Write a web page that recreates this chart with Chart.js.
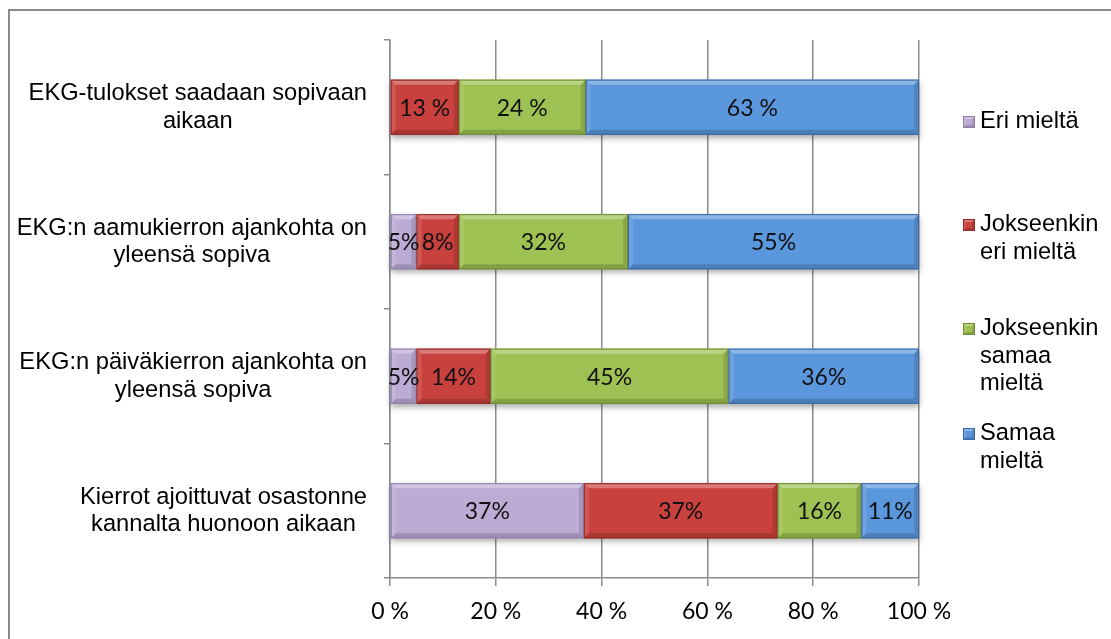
<!DOCTYPE html>
<html lang="fi">
<head>
<meta charset="utf-8">
<title>EKG-kierrot</title>
<script src="https://cdn.jsdelivr.net/npm/chart.js@4.4.1/dist/chart.umd.min.js"></script>
<style>
  html, body { margin: 0; padding: 0; background: #ffffff; }
  #wrap { position: relative; width: 1111px; height: 639px; }
</style>
</head>
<body>
<div id="wrap"><canvas id="c" width="1111" height="639"></canvas></div>
<script>
// Statements (each wrapped onto lines as printed)
const categories = [
  ['EKG-tulokset saadaan sopivaan', 'aikaan'],
  ['EKG:n aamukierron ajankohta on', 'yleensä sopiva'],
  ['EKG:n päiväkierron ajankohta on', 'yleensä sopiva'],
  ['Kierrot ajoittuvat osastonne', 'kannalta huonoon aikaan']
];

// Answer options
const seriesNames = ['Eri mieltä', 'Jokseenkin eri mieltä', 'Jokseenkin samaa mieltä', 'Samaa mieltä'];
const legendLines = [['Eri mieltä'], ['Jokseenkin', 'eri mieltä'], ['Jokseenkin', 'samaa', 'mieltä'], ['Samaa', 'mieltä']];

// Share of answers per statement (%)
const eriMielta       = [0, 5, 5, 37];
const jokseenkinEri   = [13, 8, 14, 37];
const jokseenkinSamaa = [24, 32, 45, 16];
const samaaMielta     = [63, 55, 36, 11];

// Value label suffix per statement
const labelSuffix = [' %', '%', '%', '%'];

// Horizontal axis labels
const tickLabels = ['0 %', '20 %', '40 %', '60 %', '80 %', '100 %'];

const rawSeries = [eriMielta, jokseenkinEri, jokseenkinSamaa, samaaMielta];
// 100 % stacked: each row is scaled to its own total
const rowTotals = categories.map((_, i) => rawSeries.reduce((s, arr) => s + arr[i], 0));

const palette = [
  { fill: '#BCABD5', edge: '#8E7CAD' },
  { fill: '#C9413E', edge: '#8C2A28' },
  { fill: '#9DC152', edge: '#6C8A32' },
  { fill: '#5A97DC', edge: '#3869A6' }
];

const LABEL_FONT = '23.7px "Liberation Sans", Arial, sans-serif';
const VALUE_FONT = '23px Lato, "Open Sans", sans-serif';
const GRID = '#8C8C8C';

function barBox(el) {
  const p = el.getProps(['x', 'y', 'base', 'height'], true);
  const l = Math.min(p.x, p.base), r = Math.max(p.x, p.base);
  return { l, r, t: p.y - p.height / 2, b: p.y + p.height / 2, cy: p.y };
}

function poly(ctx, pts, color) {
  ctx.beginPath();
  ctx.moveTo(pts[0][0], pts[0][1]);
  for (let i = 1; i < pts.length; i++) ctx.lineTo(pts[i][0], pts[i][1]);
  ctx.closePath();
  ctx.fillStyle = color;
  ctx.fill();
}

function bevel(ctx, l, t, r, b, d, edge) {
  d = Math.min(d, (r - l) / 2, (b - t) / 2);
  poly(ctx, [[l, t], [r, t], [r - d, t + d], [l + d, t + d]], 'rgba(255,255,255,0.30)');
  poly(ctx, [[l, b], [r, b], [r - d, b - d], [l + d, b - d]], 'rgba(0,0,0,0.16)');
  poly(ctx, [[l, t], [l + d, t + d], [l + d, b - d], [l, b]], 'rgba(255,255,255,0.12)');
  poly(ctx, [[r, t], [r - d, t + d], [r - d, b - d], [r, b]], 'rgba(0,0,0,0.12)');
  ctx.strokeStyle = edge;
  ctx.lineWidth = 1;
  ctx.strokeRect(l + 0.5, t + 0.5, r - l - 1, b - t - 1);
}

const decor = {
  id: 'decor',
  beforeDraw(chart) {
    const ctx = chart.ctx;
    ctx.save();
    ctx.fillStyle = '#ffffff';
    ctx.fillRect(0, 0, chart.width, chart.height);
    // chart frame
    ctx.strokeStyle = '#8A8A8A';
    ctx.lineWidth = 2;
    ctx.strokeRect(9, 10, 1200, 700);
    ctx.restore();
  },
  beforeDatasetsDraw(chart) {
    // soft drop shadow under every bar segment
    const ctx = chart.ctx;
    ctx.save();
    ctx.shadowColor = 'rgba(0,0,0,0.35)';
    ctx.shadowBlur = 6;
    ctx.shadowOffsetY = 3;
    chart.data.datasets.forEach((ds, k) => {
      chart.getDatasetMeta(k).data.forEach((el, i) => {
        if (!rawSeries[k][i]) return;
        const bx = barBox(el);
        ctx.fillStyle = palette[k].fill;
        ctx.fillRect(bx.l, bx.t, bx.r - bx.l, bx.b - bx.t);
      });
    });
    ctx.restore();
  },
  afterDatasetsDraw(chart) {
    const ctx = chart.ctx;
    ctx.save();
    chart.data.datasets.forEach((ds, k) => {
      chart.getDatasetMeta(k).data.forEach((el, i) => {
        if (!rawSeries[k][i]) return;
        const bx = barBox(el);
        bevel(ctx, bx.l, bx.t, bx.r, bx.b, 5, palette[k].edge);
      });
    });
    // value labels
    ctx.font = VALUE_FONT;
    ctx.fillStyle = '#111111';
    ctx.textAlign = 'center';
    ctx.textBaseline = 'middle';
    chart.data.datasets.forEach((ds, k) => {
      chart.getDatasetMeta(k).data.forEach((el, i) => {
        const v = rawSeries[k][i];
        if (!v) return;
        const bx = barBox(el);
        ctx.fillText(v + labelSuffix[i], (bx.l + bx.r) / 2, bx.cy + 1);
      });
    });
    ctx.restore();
  },
  afterDraw(chart) {
    const ctx = chart.ctx;
    const yScale = chart.scales.y;
    ctx.save();
    // category labels: each block right-aligned to the axis, lines centred within it
    ctx.font = LABEL_FONT;
    ctx.fillStyle = '#000000';
    ctx.textAlign = 'center';
    ctx.textBaseline = 'alphabetic';
    const lh = 27.5;
    const rightEdge = chart.chartArea.left - 23;
    categories.forEach((lines, i) => {
      const cy = yScale.getPixelForValue(i);
      const w = Math.max(...lines.map(s => ctx.measureText(s).width));
      const cx = rightEdge - w / 2;
      lines.forEach((s, j) => {
        ctx.fillText(s, cx, cy - (lines.length - 1) * lh / 2 + j * lh + 6.5);
      });
    });
    // legend
    const baselines = [128, 231, 335, 440];
    const mx = 963, tx = 980, size = 12;
    legendLines.forEach((lines, k) => {
      const b0 = baselines[k];
      ctx.fillStyle = palette[k].fill;
      ctx.fillRect(mx, b0 - size, size, size);
      bevel(ctx, mx, b0 - size, mx + size, b0, 3, palette[k].edge);
      ctx.fillStyle = '#000000';
      ctx.textAlign = 'left';
      lines.forEach((s, j) => ctx.fillText(s, tx, b0 + j * 27.5));
    });
    ctx.restore();
  }
};

new Chart(document.getElementById('c'), {
  type: 'bar',
  data: {
    labels: categories,
    datasets: rawSeries.map((arr, k) => ({
      label: seriesNames[k],
      data: arr.map((v, i) => v / rowTotals[i] * 100),
      backgroundColor: palette[k].fill,
      borderWidth: 0,
      barPercentage: 0.41,
      categoryPercentage: 1
    }))
  },
  options: {
    indexAxis: 'y',
    responsive: false,
    animation: false,
    events: [],
    layout: { padding: { top: 40, right: 192, left: 0, bottom: 0 } },
    plugins: {
      legend: { display: false },
      tooltip: { enabled: false }
    },
    scales: {
      x: {
        stacked: true,
        min: 0,
        max: 100,
        ticks: {
          stepSize: 20,
          maxRotation: 0,
          padding: 12,
          color: '#000000',
          font: { family: 'Lato, "Open Sans", sans-serif', size: 23 },
          callback: (v, i) => tickLabels[i]
        },
        grid: { color: GRID, lineWidth: 1.5, tickLength: 8 },
        border: { color: GRID, width: 1.5 },
        afterFit: s => { s.height = 61; }
      },
      y: {
        stacked: true,
        ticks: { display: false },
        grid: { drawOnChartArea: false, offset: true, tickLength: 6, color: GRID, lineWidth: 1.5 },
        border: { color: GRID, width: 1.5 },
        afterFit: s => { s.width = 390; }
      }
    }
  },
  plugins: [decor]
});
</script>
</body>
</html>
